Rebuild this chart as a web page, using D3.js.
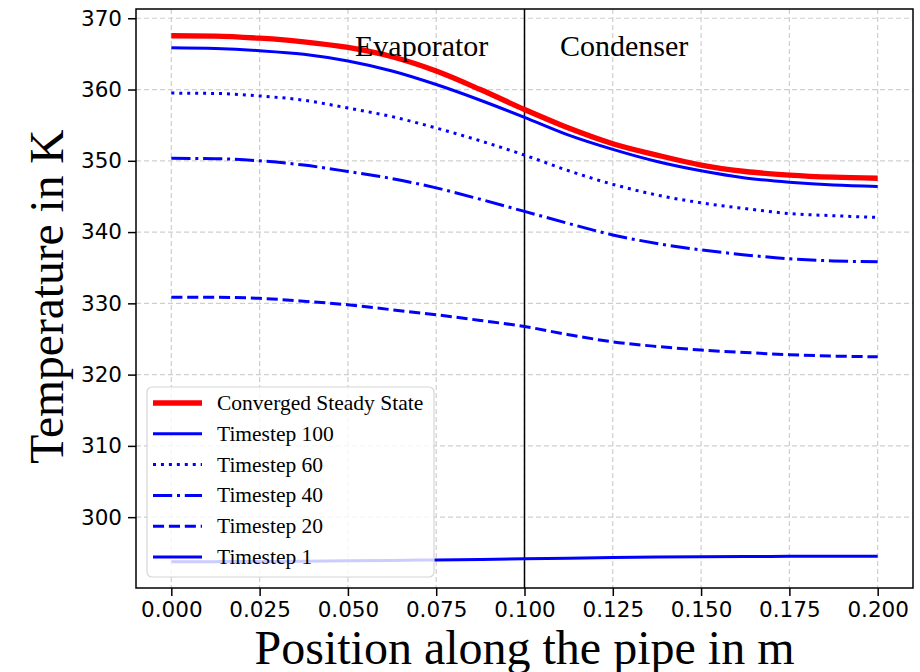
<!DOCTYPE html>
<html>
<head>
<meta charset="utf-8">
<script src="https://cdn.jsdelivr.net/npm/d3@7"></script>
<style>
  html, body { margin: 0; padding: 0; background: #fff; }
  svg { display: block; }
</style>
</head>
<body>
<svg id="chart" width="920" height="672"></svg>
<script>
// ---- data ----
const positions = [0, 0.0125, 0.025, 0.0375, 0.05, 0.0625, 0.075, 0.0875, 0.1,
                   0.1125, 0.125, 0.1375, 0.15, 0.1625, 0.175, 0.1875, 0.2];
const steadyState = [367.55, 367.5, 367.2, 366.7, 365.9, 364.6, 362.6, 360.0, 357.2,
                     354.6, 352.4, 350.8, 349.4, 348.5, 348.0, 347.7, 347.55];
const timestep100 = [365.85, 365.75, 365.45, 364.95, 364.0, 362.6, 360.7, 358.5, 356.1,
                     353.6, 351.6, 349.9, 348.6, 347.6, 347.0, 346.6, 346.4];
const timestep60  = [359.5, 359.45, 359.1, 358.5, 357.4, 356.2, 354.6, 352.8, 350.8,
                     348.6, 346.7, 345.2, 344.1, 343.3, 342.6, 342.3, 342.05];
const timestep40  = [350.35, 350.3, 350.0, 349.4, 348.5, 347.5, 346.2, 344.6, 342.9,
                     341.2, 339.6, 338.4, 337.5, 336.8, 336.25, 335.95, 335.85];
const timestep20  = [330.85, 330.85, 330.7, 330.3, 329.8, 329.1, 328.4, 327.6, 326.75,
                     325.6, 324.6, 323.95, 323.45, 323.1, 322.8, 322.6, 322.5];
const timestep1   = [293.75, 293.76, 293.78, 293.82, 293.87, 293.93, 294.0, 294.07, 294.15,
                     294.25, 294.33, 294.4, 294.45, 294.48, 294.5, 294.5, 294.5];
const xTicks = [0, 0.025, 0.05, 0.075, 0.1, 0.125, 0.15, 0.175, 0.2];
const yTicks = [300, 310, 320, 330, 340, 350, 360, 370];
const seriesNames = ["Converged Steady State", "Timestep 100", "Timestep 60",
                     "Timestep 40", "Timestep 20", "Timestep 1"];
const sectionLabels = ["Evaporator", "Condenser"];
const boundary = 0.1;

// ---- layout ----
const svg = d3.select("#chart");
const L = 136, R = 913, T = 9, B = 588;
const x = d3.scaleLinear().domain([-0.01, 0.21]).range([L, R]);
const y = d3.scaleLinear().domain([290.06, 371.3]).range([B, T]);

const lw = 3;
const styles = [
  { data: steadyState, color: "#ff0000", width: 5.3, dash: null },
  { data: timestep100, color: "#0000ff", width: lw, dash: null },
  { data: timestep60,  color: "#0000ff", width: lw, dash: [lw*1, lw*1.65] },
  { data: timestep40,  color: "#0000ff", width: lw, dash: [lw*6.4, lw*1.6, lw*1, lw*1.6] },
  { data: timestep20,  color: "#0000ff", width: lw, dash: [lw*3.7, lw*1.6] },
  { data: timestep1,   color: "#0000ff", width: lw, dash: null }
];

// grid
const grid = svg.append("g");
grid.selectAll("line.gx").data(xTicks).enter().append("line")
  .attr("x1", d => x(d)).attr("x2", d => x(d)).attr("y1", T).attr("y2", B)
  .attr("stroke", "#cfcfcf").attr("stroke-width", 1.2).attr("stroke-dasharray", "5,3");
grid.selectAll("line.gy").data(yTicks).enter().append("line")
  .attr("y1", d => y(d)).attr("y2", d => y(d)).attr("x1", L).attr("x2", R)
  .attr("stroke", "#cfcfcf").attr("stroke-width", 1.2).attr("stroke-dasharray", "5,3");

// boundary line
svg.append("line")
  .attr("x1", x(boundary)).attr("x2", x(boundary)).attr("y1", T).attr("y2", B)
  .attr("stroke", "#000").attr("stroke-width", 1.5);

// series lines (draw timestep 1 first, steady state last)
const line = d3.line().x((d, i) => x(positions[i])).y(d => y(d)).curve(d3.curveMonotoneX);
const order = [5, 4, 3, 2, 1, 0];
order.forEach(k => {
  const s = styles[k];
  svg.append("path")
    .attr("d", line(s.data))
    .attr("fill", "none")
    .attr("stroke", s.color)
    .attr("stroke-width", s.width)
    .attr("stroke-dasharray", s.dash ? s.dash.join(",") : null)
    .attr("stroke-linecap", "butt");
});

// section labels
svg.append("text").attr("x", 355).attr("y", 56)
  .attr("font-family", "'Liberation Serif', 'Times New Roman', serif")
  .attr("font-size", 30).attr("fill", "#000").text(sectionLabels[0]);
svg.append("text").attr("x", 560).attr("y", 56)
  .attr("font-family", "'Liberation Serif', 'Times New Roman', serif")
  .attr("font-size", 30).attr("fill", "#000").text(sectionLabels[1]);

// axes
const xAxis = d3.axisBottom(x).tickValues(xTicks).tickFormat(d3.format(".3f")).tickSize(8).tickPadding(6);
const yAxis = d3.axisLeft(y).tickValues(yTicks).tickFormat(d3.format("d")).tickSize(8).tickPadding(6);
const gx = svg.append("g").attr("transform", `translate(0,${B})`).call(xAxis);
const gy = svg.append("g").attr("transform", `translate(${L},0)`).call(yAxis);
[gx, gy].forEach(g => {
  g.select(".domain").remove();
  g.selectAll(".tick line").attr("stroke", "#000").attr("stroke-width", 1.5);
  g.selectAll(".tick text").attr("font-family", "'DejaVu Sans', sans-serif")
    .attr("font-size", 21.5).attr("fill", "#000");
});

// frame
svg.append("rect").attr("x", L).attr("y", T).attr("width", R - L).attr("height", B - T)
  .attr("fill", "none").attr("stroke", "#000").attr("stroke-width", 1.5);

// legend
const lg = svg.append("g");
lg.append("rect").attr("x", 147).attr("y", 387).attr("width", 287).attr("height", 190)
  .attr("rx", 5).attr("fill", "#fff").attr("fill-opacity", 0.8)
  .attr("stroke", "#d6d6d6").attr("stroke-width", 1.2);
const rowY = d3.scaleLinear().domain([0, 5]).range([403, 557]);
seriesNames.forEach((name, i) => {
  const s = styles[i];
  const yy = rowY(i);
  lg.append("line").attr("x1", 153).attr("x2", 202).attr("y1", yy).attr("y2", yy)
    .attr("stroke", s.color).attr("stroke-width", s.width)
    .attr("stroke-dasharray", s.dash ? s.dash.join(",") : null);
  lg.append("text").attr("x", 217).attr("y", yy).attr("dy", "0.33em")
    .attr("font-family", "'Liberation Serif', 'Times New Roman', serif")
    .attr("font-size", 21.5).attr("fill", "#000").text(name);
});

// axis titles
svg.append("text").attr("x", (L + R) / 2).attr("y", 664).attr("text-anchor", "middle")
  .attr("font-family", "'Liberation Serif', 'Times New Roman', serif")
  .attr("font-size", 48).attr("fill", "#000").text("Position along the pipe in m");
svg.append("text").attr("transform", `translate(63,${(T + B) / 2 - 2}) rotate(-90)`)
  .attr("text-anchor", "middle")
  .attr("font-family", "'Liberation Serif', 'Times New Roman', serif")
  .attr("font-size", 47.5).attr("fill", "#000").text("Temperature in K");
</script>
</body>
</html>
